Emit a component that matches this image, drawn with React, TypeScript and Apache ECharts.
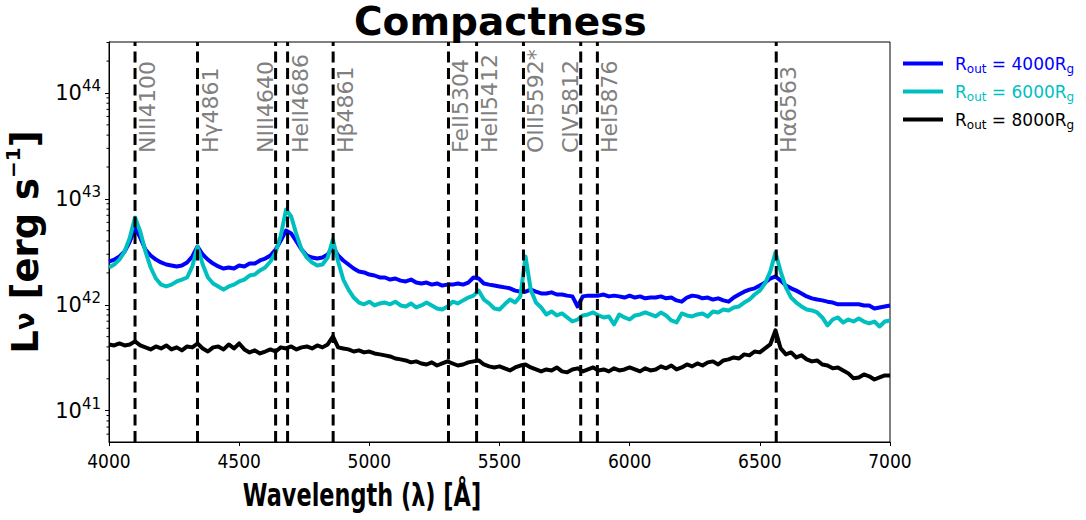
import { useEffect, useRef } from 'react';
import * as echarts from 'echarts';

// Wavelength grid (Å)
const wavelengths = [
  4000, 4020, 4040, 4060, 4080, 4100, 4120, 4140, 4160, 4180,
  4200, 4220, 4240, 4260, 4280, 4300, 4320, 4340, 4360, 4380,
  4400, 4420, 4440, 4460, 4480, 4500, 4520, 4540, 4560, 4580,
  4600, 4620, 4640, 4660, 4680, 4700, 4720, 4740, 4760, 4780,
  4800, 4820, 4840, 4860, 4880, 4900, 4920, 4940, 4960, 4980,
  5000, 5020, 5040, 5060, 5080, 5100, 5120, 5140, 5160, 5180,
  5200, 5220, 5240, 5260, 5280, 5300, 5320, 5340, 5360, 5380,
  5400, 5420, 5440, 5460, 5480, 5500, 5520, 5540, 5560, 5580,
  5600, 5620, 5640, 5660, 5680, 5700, 5720, 5740, 5760, 5780,
  5800, 5820, 5840, 5860, 5880, 5900, 5920, 5940, 5960, 5980,
  6000, 6020, 6040, 6060, 6080, 6100, 6120, 6140, 6160, 6180,
  6200, 6220, 6240, 6260, 6280, 6300, 6320, 6340, 6360, 6380,
  6400, 6420, 6440, 6460, 6480, 6500, 6520, 6540, 6560, 6580,
  6600, 6620, 6640, 6660, 6680, 6700, 6720, 6740, 6760, 6780,
  6800, 6820, 6840, 6860, 6880, 6900, 6920, 6940, 6960, 6980,
  7000,
];

// Luminosities in units of 1e42 erg/s
const lum4000 = [
  2.56, 2.67, 2.86, 3.18, 3.96, 5.36, 4.31, 3.32, 2.92, 2.67,
  2.51, 2.40, 2.35, 2.30, 2.35, 2.51, 2.86, 3.55, 2.98, 2.67,
  2.45, 2.30, 2.20, 2.25, 2.20, 2.35, 2.30, 2.45, 2.45, 2.62,
  2.73, 2.92, 3.32, 4.04, 5.02, 4.71, 3.96, 3.32, 2.92, 2.79,
  2.73, 2.79, 2.98, 3.55, 2.92, 2.62, 2.40, 2.20, 2.06, 2.02,
  1.93, 1.89, 1.81, 1.81, 1.73, 1.77, 1.69, 1.66, 1.73, 1.62,
  1.59, 1.62, 1.55, 1.59, 1.52, 1.55, 1.55, 1.59, 1.55, 1.62,
  1.81, 1.77, 1.59, 1.55, 1.52, 1.49, 1.46, 1.43, 1.36, 1.33,
  1.33, 1.39, 1.33, 1.28, 1.28, 1.31, 1.25, 1.25, 1.22, 1.20,
  0.964, 1.20, 1.22, 1.22, 1.22, 1.25, 1.20, 1.22, 1.20, 1.17,
  1.22, 1.17, 1.20, 1.15, 1.17, 1.17, 1.20, 1.15, 1.17, 1.10,
  1.07, 1.17, 1.22, 1.20, 1.15, 1.17, 1.12, 1.15, 1.10, 1.07,
  1.17, 1.25, 1.33, 1.39, 1.43, 1.52, 1.62, 1.77, 1.85, 1.69,
  1.52, 1.43, 1.36, 1.28, 1.20, 1.15, 1.12, 1.10, 1.07, 1.05,
  1.01, 1.01, 1.01, 1.01, 1.01, 0.985, 0.985, 0.923, 0.943, 0.964,
  0.985,
];

const lum6000 = [
  2.25, 2.40, 2.67, 3.18, 4.31, 6.66, 4.92, 3.18, 2.25, 1.77,
  1.55, 1.49, 1.55, 1.66, 1.73, 1.81, 2.30, 3.55, 2.40, 1.81,
  1.59, 1.49, 1.39, 1.49, 1.55, 1.66, 1.73, 1.89, 1.93, 2.11,
  2.25, 2.56, 3.11, 4.51, 7.93, 6.81, 4.61, 3.32, 2.79, 2.51,
  2.35, 2.40, 2.79, 4.13, 2.56, 1.73, 1.39, 1.17, 1.05, 1.01,
  1.07, 0.985, 1.03, 1.05, 1.01, 1.07, 0.985, 0.964, 1.03, 0.943,
  0.985, 1.05, 0.985, 0.923, 0.903, 0.964, 1.07, 1.03, 1.10, 1.17,
  1.22, 1.36, 1.12, 1.03, 0.923, 0.903, 1.01, 1.12, 1.05, 1.20,
  2.86, 1.39, 1.05, 0.943, 0.810, 0.865, 0.793, 0.828, 0.759, 0.695,
  0.726, 0.793, 0.810, 0.846, 0.793, 0.759, 0.776, 0.652, 0.810, 0.759,
  0.726, 0.793, 0.810, 0.846, 0.810, 0.776, 0.846, 0.793, 0.711, 0.681,
  0.828, 0.793, 0.776, 0.810, 0.828, 0.776, 0.865, 0.846, 0.903, 0.884,
  0.943, 0.964, 1.05, 1.12, 1.25, 1.36, 1.59, 2.06, 3.11, 2.06,
  1.46, 1.17, 1.05, 0.964, 0.903, 0.884, 0.846, 0.759, 0.638, 0.726,
  0.759, 0.681, 0.726, 0.695, 0.742, 0.695, 0.667, 0.695, 0.624, 0.695,
  0.711,
];

const lum8000 = [
  0.422, 0.413, 0.431, 0.413, 0.422, 0.451, 0.413, 0.396, 0.379, 0.404,
  0.387, 0.413, 0.379, 0.396, 0.371, 0.404, 0.396, 0.431, 0.387, 0.362,
  0.396, 0.404, 0.379, 0.422, 0.387, 0.431, 0.379, 0.355, 0.371, 0.347,
  0.362, 0.379, 0.362, 0.396, 0.387, 0.404, 0.379, 0.396, 0.404, 0.387,
  0.413, 0.396, 0.422, 0.502, 0.396, 0.387, 0.379, 0.362, 0.371, 0.355,
  0.362, 0.347, 0.340, 0.333, 0.325, 0.311, 0.305, 0.298, 0.286, 0.292,
  0.279, 0.273, 0.286, 0.267, 0.279, 0.292, 0.279, 0.267, 0.273, 0.286,
  0.292, 0.298, 0.273, 0.262, 0.256, 0.262, 0.251, 0.240, 0.256, 0.267,
  0.273, 0.256, 0.245, 0.235, 0.245, 0.240, 0.256, 0.235, 0.230, 0.245,
  0.251, 0.235, 0.245, 0.256, 0.240, 0.245, 0.235, 0.251, 0.240, 0.245,
  0.256, 0.245, 0.235, 0.251, 0.240, 0.245, 0.262, 0.251, 0.267, 0.245,
  0.256, 0.273, 0.262, 0.279, 0.267, 0.286, 0.292, 0.273, 0.298, 0.305,
  0.318, 0.311, 0.340, 0.333, 0.362, 0.355, 0.387, 0.422, 0.573, 0.387,
  0.340, 0.355, 0.318, 0.333, 0.305, 0.292, 0.298, 0.273, 0.267, 0.251,
  0.256, 0.240, 0.225, 0.202, 0.206, 0.220, 0.211, 0.197, 0.206, 0.215,
  0.215,
];
const UNIT = 1e42;

const seriesNames = ['Rout = 4000Rg', 'Rout = 6000Rg', 'Rout = 8000Rg'];
const seriesColors = ['#0000ff', '#00bfbf', '#000000'];

// Emission line markers
const lineWavelengths = [4100, 4340, 4640, 4686, 4861, 5304, 5412, 5592, 5812, 5876, 6563];
const lineLabels = ['NIII4100', 'Hγ4861', 'NIII4640', 'HeII4686', 'Hβ4861', 'FeII5304', 'HeII5412', 'OIII5592*', 'CIV5812', 'HeI5876', 'Hα6563'];
// labels drawn on the left-hand side of their marker line
const leftSideLabels = ['NIII4640', 'CIV5812'];

// Axes
const xMin = 4000;
const xMax = 7000;
const xInterval = 500;
const yMin = 5.06e40;
const yMax = 3.03e44;
const yMinorTicks = [
  6e40, 7e40, 8e40, 9e40,
  2e41, 3e41, 4e41, 5e41, 6e41, 7e41, 8e41, 9e41,
  2e42, 3e42, 4e42, 5e42, 6e42, 7e42, 8e42, 9e42,
  2e43, 3e43, 4e43, 5e43, 6e43, 7e43, 8e43, 9e43,
  2e44, 3e44,
];

const FONT = "'DejaVu Sans', sans-serif";
const COND = "'DejaVu Sans Condensed', 'DejaVu Sans', sans-serif";

export default function App() {
  const ref = useRef<HTMLDivElement>(null);
  useEffect(() => {
    if (!ref.current) return;
    const chart = echarts.init(ref.current, undefined, { renderer: 'svg' });
    const spectra = [lum4000, lum6000, lum8000].map((arr, k) => ({
      name: seriesNames[k],
      type: 'line',
      showSymbol: false,
      symbol: 'none',
      z: 2 + k * 0.1,
      lineStyle: { width: 4, color: seriesColors[k], join: 'round' },
      itemStyle: { color: seriesColors[k] },
      data: wavelengths.map((w, i) => [w, arr[i] * UNIT]),
    }));
    const option: any = {
      animation: false,
      title: {
        text: 'Compactness',
        left: 354,
        top: 1,
        padding: 0,
        textStyle: { fontSize: 39, lineHeight: 40, fontWeight: 'bold', fontFamily: FONT, color: '#000' },
      },
      grid: {
        left: 109, right: 196, top: 42, bottom: 78,
        outerBoundsMode: 'none',
        containLabel: false,
        show: true, borderColor: '#000', borderWidth: 1, backgroundColor: 'transparent',
      },
      legend: {
        orient: 'vertical',
        left: 903,
        top: 55,
        padding: 0,
        itemGap: 8.5,
        itemWidth: 40,
        itemHeight: 4,
        icon: 'rect',
        data: seriesNames.map((n, k) => ({ name: n, textStyle: { color: seriesColors[k] } })),
        formatter: (name: string) => {
          const num = (name.match(/\d+/) || [''])[0];
          return `{sp| }{r|R}{s|out}{r| = ${num}R}{s|g}`;
        },
        textStyle: {
          fontFamily: FONT,
          rich: {
            sp: { width: 7, fontSize: 10 },
            r: { fontSize: 17, fontFamily: FONT, lineHeight: 22 },
            s: { fontSize: 12, fontFamily: FONT, lineHeight: 12, verticalAlign: 'bottom' },
          },
        },
      },
      xAxis: {
        type: 'value',
        min: xMin,
        max: xMax,
        interval: xInterval,
        axisLine: { lineStyle: { color: '#000', width: 1 } },
        axisTick: { length: 4, lineStyle: { color: '#000', width: 1 } },
        axisLabel: {
          fontSize: 19,
          fontFamily: COND,
          color: '#000',
          margin: 9,
          formatter: (v: number) => String(v),
        },
        splitLine: { show: false },
      },
      yAxis: {
        type: 'log',
        logBase: 10,
        min: yMin,
        max: yMax,
        name: '{b|L}{sub|ν}{b| [erg s}{sup|−1}{b|]}',
        nameLocation: 'middle',
        nameGap: 62,
        nameTextStyle: {
          rich: {
            b: { fontSize: 37, fontWeight: 'bold', fontFamily: FONT, color: '#000', lineHeight: 44 },
            sub: { fontSize: 26, fontWeight: 'bold', fontFamily: FONT, color: '#000', lineHeight: 30 },
            sup: { fontSize: 20, fontWeight: 'bold', fontFamily: FONT, color: '#000', lineHeight: 20, verticalAlign: 'top' },
          },
        },
        axisLine: { lineStyle: { color: '#000', width: 1 } },
        axisTick: { length: 4, lineStyle: { color: '#000', width: 1 } },
        axisLabel: {
          margin: 8,
          showMinLabel: false,
          showMaxLabel: false,
          formatter: (v: number) => {
            const e = Math.log10(v);
            const r = Math.round(e);
            if (Math.abs(e - r) > 1e-6) return '';
            return `{b|10}{e|${r}}`;
          },
          rich: {
            b: { fontSize: 21, fontFamily: FONT, color: '#000', lineHeight: 28 },
            e: { fontSize: 15, fontFamily: FONT, color: '#000', lineHeight: 15, verticalAlign: 'top' },
          },
        },
        splitLine: { show: false },
      },
      graphic: [
        {
          type: 'text',
          x: 362,
          y: 495,
          scaleX: 0.7,
          style: {
            text: 'Wavelength (λ) [Å]',
            fontSize: 32,
            fontWeight: 'bold',
            fontFamily: FONT,
            fill: '#000',
            align: 'center',
            verticalAlign: 'middle',
          },
        },
      ],
      series: [
        ...spectra,
        {
          name: 'lines',
          type: 'custom',
          z: 5,
          silent: true,
          clip: false,
          data: lineWavelengths.map((w) => [w, UNIT]),
          renderItem: (params: any, api: any) => {
            const idx = params.dataIndex;
            const px = api.coord([api.value(0), api.value(1)])[0];
            const cs = params.coordSys;
            const onLeft = leftSideLabels.indexOf(lineLabels[idx]) >= 0;
            return {
              type: 'group',
              children: [
                {
                  type: 'line',
                  shape: { x1: px, y1: cs.y + cs.height, x2: px, y2: cs.y },
                  style: { stroke: '#000', lineWidth: 3, lineDash: [11, 5.5] },
                },
                {
                  type: 'text',
                  x: onLeft ? px - 10 : px + 12.5,
                  y: cs.y + 111,
                  rotation: Math.PI / 2,
                  style: {
                    text: lineLabels[idx],
                    fill: '#808080',
                    fontSize: 22,
                    fontFamily: FONT,
                    align: 'left',
                    verticalAlign: 'middle',
                  },
                },
              ],
            };
          },
        },
        {
          name: 'minorTicks',
          type: 'custom',
          z: 5,
          silent: true,
          clip: false,
          data: yMinorTicks.map((v) => [xMin, v]),
          renderItem: (params: any, api: any) => {
            const p = api.coord([api.value(0), api.value(1)]);
            return {
              type: 'line',
              shape: { x1: p[0] - 2.5, y1: p[1], x2: p[0], y2: p[1] },
              style: { stroke: '#000', lineWidth: 1 },
            };
          },
        },
      ],
    };
    chart.setOption(option);
    return () => chart.dispose();
  }, []);
  return (
    <div
      ref={ref}
      style={{ position: 'absolute', left: 0, top: 0, width: 1086, height: 520, background: '#fff' }}
    />
  );
}
